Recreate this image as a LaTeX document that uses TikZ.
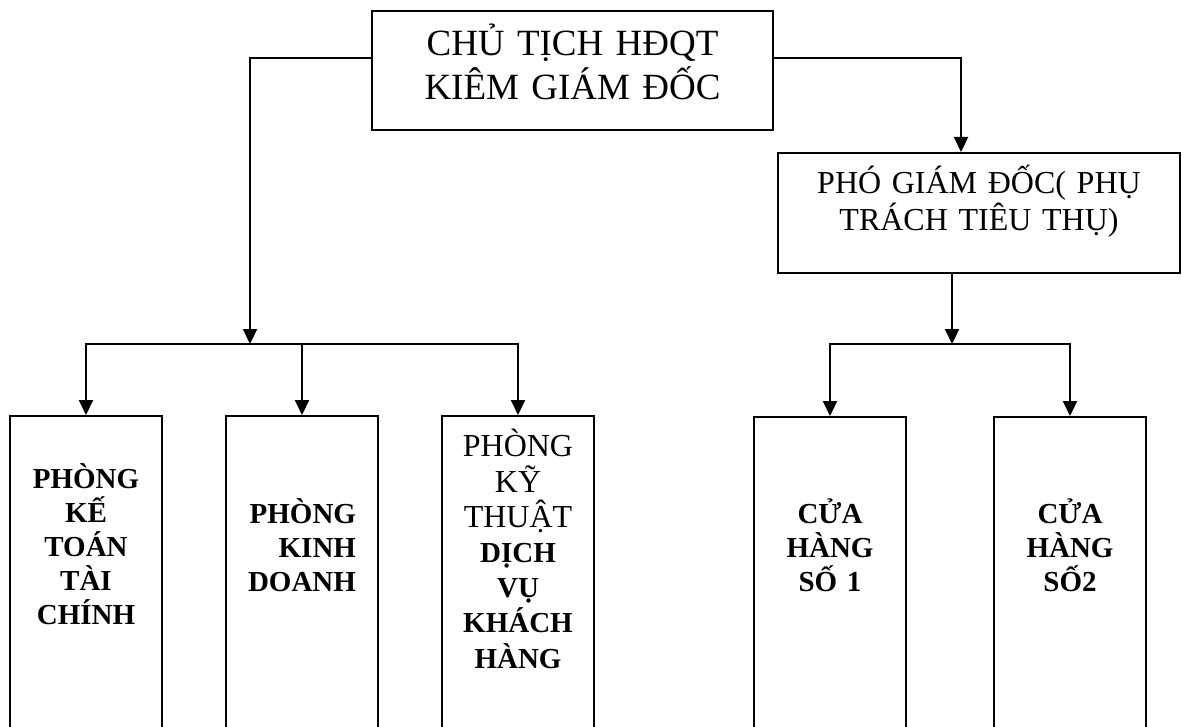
\documentclass[tikz,border=0pt]{standalone}
\usepackage{fontspec}
\setmainfont{Liberation Serif}
\usetikzlibrary{arrows.meta}
\def\chuto{\fontsize{37}{44}\selectfont}
\def\chuvua{\fontsize{32}{37}\selectfont}
\def\chudam{\bfseries\fontsize{29}{34}\selectfont}

\begin{document}
\begin{tikzpicture}[x=1pt, y=-1pt,
		khung/.style={draw, line width=1.8pt, anchor=north, inner ysep=0pt, inner xsep=10pt, align=center},
		phong/.style={khung, text width=120pt, inner xsep=16pt, text depth=400pt, font=\chudam},
		noi/.style={line width=2.2pt},
		muiten/.style={noi, -{Triangle[length=15pt, width=14pt]}}]
			%%%%% START %%%%%
			
			\path[use as bounding box, clip] (0, 0) rectangle (1182, 727);
			
			\node[khung, text width=381pt, text height=45pt, text depth=74pt, font=\chuto] (chutich) at (572.5, 10) {CHỦ TỊCH HĐQT\\KIÊM GIÁM ĐỐC};
			\node[khung, text width=382pt, text height=41pt, text depth=79pt, font=\chuvua] (phogd) at (979, 152) {PHÓ GIÁM ĐỐC( PHỤ\\TRÁCH TIÊU THỤ)};
			
			\node[phong, text height=73pt] (ketoan) at (86, 415) {PHÒNG\\KẾ\\TOÁN\\TÀI\\CHÍNH};
			\node[phong, text width=108pt, inner xsep=22pt, align=right, text height=108pt] (kinhdoanh) at (302, 415) {PHÒNG\\KINH\\DOANH};
			\node[phong, text height=41pt, font={\fontsize{32}{35.2}\selectfont}] (kythuat) at (518, 415) {PHÒNG\\KỸ\\THUẬT\\{\chudam DỊCH}\\{\chudam VỤ}\\{\chudam KHÁCH}\\{\chudam HÀNG}};
			
			\node[phong, text height=107pt] (cuahang1) at (830, 416) {CỬA\\HÀNG\\SỐ 1};
			\node[phong, text height=107pt] (cuahang2) at (1070, 416) {CỬA\\HÀNG\\SỐ2};
			
			\coordinate (nhanh1) at (250, 344);
			\coordinate (nhanh2) at (952, 344);
			
			\draw[muiten] ([yshift=12.5pt]chutich.west) -| (nhanh1);
			\draw[noi, line cap=rect] (ketoan.north |- nhanh1) -- (kythuat.north |- nhanh1);
			\foreach \p in {ketoan, kinhdoanh, kythuat}
				\draw[muiten] (\p.north |- nhanh1) -- (\p.north);
			
			\draw[muiten] ([yshift=12.5pt]chutich.east) -| ([xshift=-18pt]phogd.north);
			\draw[muiten] ([xshift=-27pt]phogd.south) -- (nhanh2);
			\draw[noi, line cap=rect] (cuahang1.north |- nhanh2) -- (cuahang2.north |- nhanh2);
			\foreach \p in {cuahang1, cuahang2}
				\draw[muiten] (\p.north |- nhanh2) -- (\p.north);
			
			%%%%% END %%%%%
		\end{tikzpicture}
\end{document}
